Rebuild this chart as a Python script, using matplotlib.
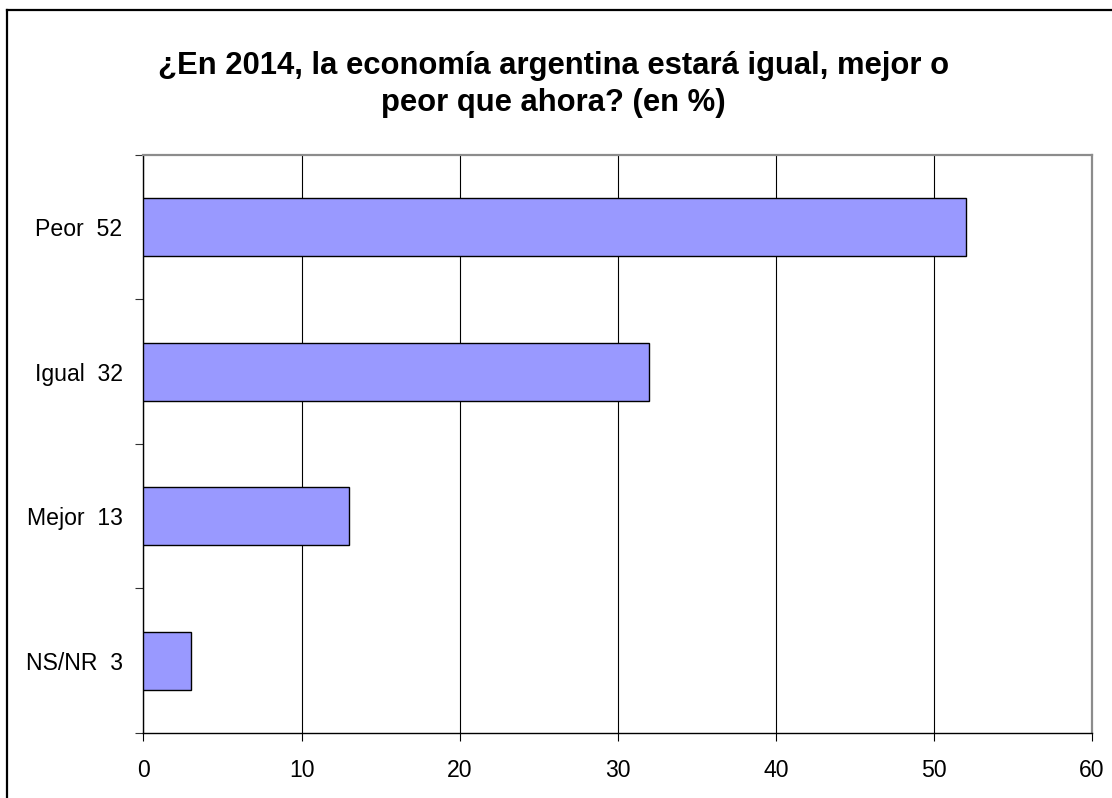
import matplotlib
matplotlib.use("Agg")
import matplotlib.pyplot as plt
from matplotlib.lines import Line2D
import numpy as np

plt.rcParams["font.family"] = ["Liberation Sans", "DejaVu Sans"]

# data
categories = ["Peor  52", "Igual  32", "Mejor  13", "NS/NR  3"]
values = [52, 32, 13, 3]
x_ticks = [0, 10, 20, 30, 40, 50, 60]

TITLE = "¿En 2014, la economía argentina estará igual, mejor o\npeor que ahora? (en %)"
BAR_COLOR = "#9999FF"

fig = plt.figure(figsize=(11.12, 7.98), dpi=100)
ax = fig.add_axes([0.129, 0.0815, 0.853, 0.7245])

y = np.arange(len(categories))
ax.barh(y, values, height=0.4, color=BAR_COLOR, edgecolor="black", linewidth=1.0, zorder=3)

ax.set_xlim(0, 60)
ax.set_ylim(len(categories) - 0.5, -0.5)
ax.set_xticks(x_ticks)
ax.set_xticklabels([str(t) for t in x_ticks])
ax.set_yticks(y)
ax.set_yticklabels(categories)
ax.set_yticks(np.arange(-0.5, len(categories)), minor=True)

ax.grid(True, axis="x", color="black", linewidth=0.8, zorder=1)
ax.set_axisbelow(True)

ax.tick_params(axis="y", which="major", length=0, pad=15, labelsize=16.6)
ax.tick_params(axis="y", which="minor", length=6, width=0.8, direction="out", color="#333333")
ax.tick_params(axis="x", length=6, width=0.8, direction="out", pad=13, labelsize=16.6)

for s in ("left", "bottom"):
    ax.spines[s].set_color("black")
    ax.spines[s].set_linewidth(1.0)
for s in ("top", "right"):
    ax.spines[s].set_color("#8c8c8c")
    ax.spines[s].set_linewidth(1.6)

fig.text(0.498, 0.894, TITLE, ha="center", va="center", fontsize=22.3,
         fontweight="bold", linespacing=1.33)

# chart frame (only left and top edges fall inside the picture)
fig.add_artist(Line2D([7 / 1112, 7 / 1112], [0, 1 - 10 / 798], transform=fig.transFigure,
                      color="black", linewidth=1.6))
fig.add_artist(Line2D([7 / 1112, 1], [1 - 10 / 798, 1 - 10 / 798], transform=fig.transFigure,
                      color="black", linewidth=1.6))

fig.savefig("out.png", dpi=100)
